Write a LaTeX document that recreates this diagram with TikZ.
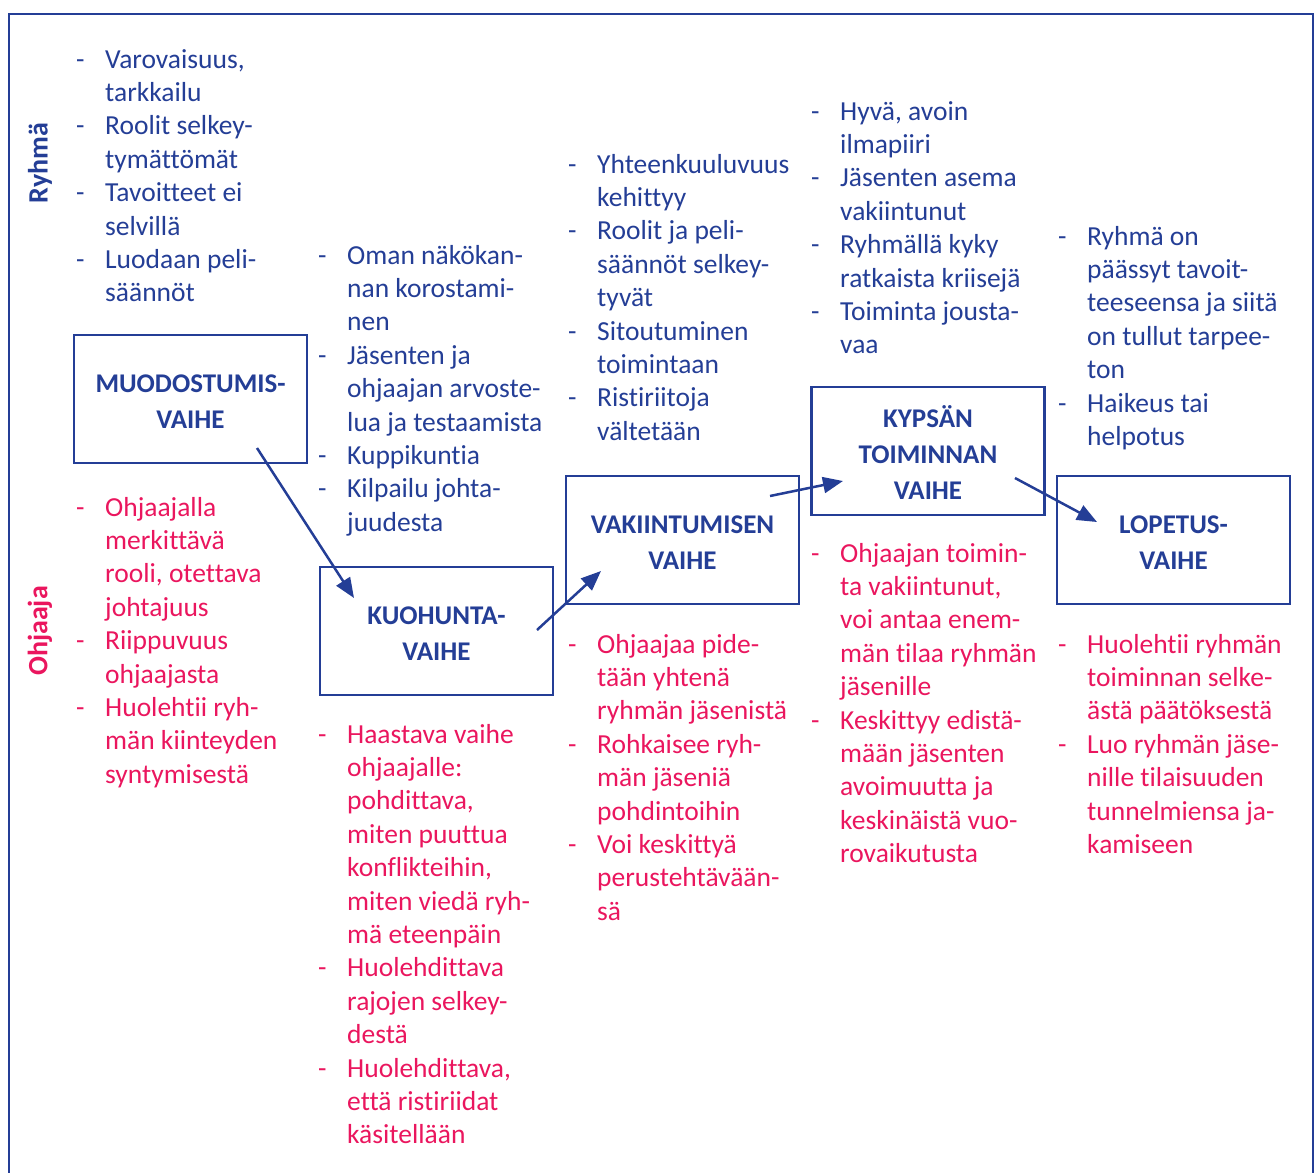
\documentclass[tikz,border=0pt]{standalone}
\usepackage{fontspec}
\setmainfont{Carlito}[Ligatures=NoCommon]
\usetikzlibrary{arrows.meta}
\definecolor{dblue}{RGB}{36,62,150}
\definecolor{dpink}{RGB}{234,22,94}
\newcommand\itm{\makebox[29pt][l]{-}}
\newcommand\cnt{\hspace*{29pt}}
\newcommand\lst[1]{\begin{tabular}[t]{@{}l@{}}#1\end{tabular}}
\tikzset{
 frame/.style={draw=dblue, line width=2pt},
 phase/.style={draw=dblue, line width=2.5pt, minimum width=233pt, minimum height=128pt, inner sep=0pt},
 ttl/.style={inner sep=0pt, text=dblue, font=\fontsize{27}{36}\selectfont\bfseries, align=center},
 blist/.style={anchor=base west, inner sep=0pt, font=\fontsize{27.5}{33.4}\selectfont, text=dblue},
 plist/.style={blist, text=dpink},
 flow/.style={draw=dblue, line width=2.5pt, -{Triangle[length=20pt,width=16pt]}},
 side/.style={rotate=90, inner sep=0pt, font=\fontsize{28}{30}\selectfont\bfseries}
}
\begin{document}
\begin{tikzpicture}[x=1pt,y=-1pt]
\useasboundingbox (0,0) rectangle (1315,1173);
\draw[frame] (9,1180) -- (9,14) -- (1313,14) -- (1313,1180);

\node[side, text=dblue] (ryhma) at (40,163) {Ryhmä};
\node[side, text=dpink] (ohjaaja) at (40,631) {Ohjaaja};

\node[phase] (m) at (190.5,399) {};
\node[phase] (k) at (436.5,631) {};
\node[phase] (v) at (682.5,540) {};
\node[phase] (y) at (928,451) {};
\node[phase] (l) at (1173.5,540) {};
\node[ttl] (mt) at ([yshift=-3pt]m.center) {MUODOSTUMIS-\\VAIHE};
\node[ttl] (kt) at ([yshift=-3pt]k.center) {KUOHUNTA-\\VAIHE};
\node[ttl] (vt) at ([yshift=-3pt]v.center) {VAKIINTUMISEN\\VAIHE};
\node[ttl] (yt) at ([yshift=-2pt]y.center) {KYPSÄN\\TOIMINNAN\\VAIHE};
\node[ttl] (lt) at ([yshift=-3pt]l.center) {LOPETUS-\\VAIHE};

\coordinate (a1s) at (257,448);
\coordinate (a1e) at (354,598);
\coordinate (a2s) at (537,630);
\coordinate (a2e) at (601,571);
\coordinate (a3s) at (770,496);
\coordinate (a3e) at (843,481);
\coordinate (a4s) at (1015,478);
\coordinate (a4e) at (1097,522);
\draw[flow] (a1s) -- (a1e);
\draw[flow] (a2s) -- (a2e);
\draw[flow] (a3s) -- (a3e);
\draw[flow] (a4s) -- (a4e);

\node[blist] (b1) at (76,68) {\lst{\itm Varovaisuus,\\\cnt tarkkailu\\\itm Roolit selkey-\\\cnt tymättömät\\\itm Tavoitteet ei\\\cnt selvillä\\\itm Luodaan peli-\\\cnt säännöt}};
\node[blist] (b2) at (318,264) {\lst{\itm Oman näkökan-\\\cnt nan korostami-\\\cnt nen\\\itm Jäsenten ja\\\cnt ohjaajan arvoste-\\\cnt lua ja testaamista\\\itm Kuppikuntia\\\itm Kilpailu johta-\\\cnt juudesta}};
\node[blist] (b3) at (568,173) {\lst{\itm Yhteenkuuluvuus\\\cnt kehittyy\\\itm Roolit ja peli-\\\cnt säännöt selkey-\\\cnt tyvät\\\itm Sitoutuminen\\\cnt toimintaan\\\itm Ristiriitoja\\\cnt vältetään}};
\node[blist] (b4) at (811,120) {\lst{\itm Hyvä, avoin\\\cnt ilmapiiri\\\itm Jäsenten asema\\\cnt vakiintunut\\\itm Ryhmällä kyky\\\cnt ratkaista kriisejä\\\itm Toiminta jousta-\\\cnt vaa}};
\node[blist] (b5) at (1058,245) {\lst{\itm Ryhmä on\\\cnt päässyt tavoit-\\\cnt teeseensa ja siitä\\\cnt on tullut tarpee-\\\cnt ton\\\itm Haikeus tai\\\cnt helpotus}};

\node[plist] (p1) at (76,516) {\lst{\itm Ohjaajalla\\\cnt merkittävä\\\cnt rooli, otettava\\\cnt johtajuus\\\itm Riippuvuus\\\cnt ohjaajasta\\\itm Huolehtii ryh-\\\cnt män kiinteyden\\\cnt syntymisestä}};
\node[plist] (p2) at (318,743) {\lst{\itm Haastava vaihe\\\cnt ohjaajalle:\\\cnt pohdittava,\\\cnt miten puuttua\\\cnt konflikteihin,\\\cnt miten viedä ryh-\\\cnt mä eteenpäin\\\itm Huolehdittava\\\cnt rajojen selkey-\\\cnt destä\\\itm Huolehdittava,\\\cnt että ristiriidat\\\cnt käsitellään}};
\node[plist] (p3) at (568,653) {\lst{\itm Ohjaajaa pide-\\\cnt tään yhtenä\\\cnt ryhmän jäsenistä\\\itm Rohkaisee ryh-\\\cnt män jäseniä\\\cnt pohdintoihin\\\itm Voi keskittyä\\\cnt perustehtävään-\\\cnt sä}};
\node[plist] (p4) at (811,562) {\lst{\itm Ohjaajan toimin-\\\cnt ta vakiintunut,\\\cnt voi antaa enem-\\\cnt män tilaa ryhmän\\\cnt jäsenille\\\itm Keskittyy edistä-\\\cnt mään jäsenten\\\cnt avoimuutta ja\\\cnt keskinäistä vuo-\\\cnt rovaikutusta}};
\node[plist] (p5) at (1058,653) {\lst{\itm Huolehtii ryhmän\\\cnt toiminnan selke-\\\cnt ästä päätöksestä\\\itm Luo ryhmän jäse-\\\cnt nille tilaisuuden\\\cnt tunnelmiensa ja-\\\cnt kamiseen}};
\end{tikzpicture}
\end{document}
